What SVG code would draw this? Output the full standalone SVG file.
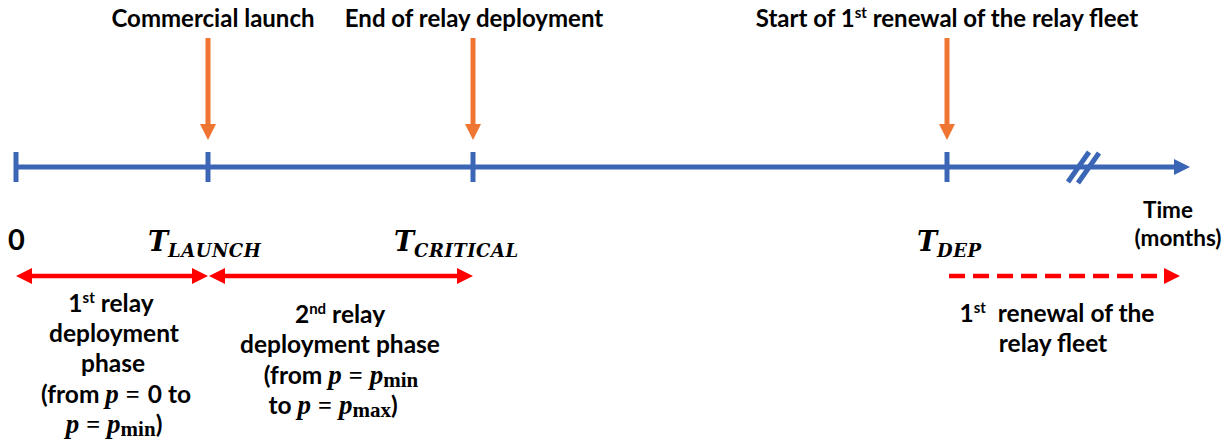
<svg xmlns="http://www.w3.org/2000/svg" width="1231" height="448" viewBox="0 0 1231 448">
  <style>
    .lbl { font-family: Lato, "Open Sans", "Liberation Sans", sans-serif; font-weight: bold; font-size: 24px; fill: #000; }
    .body { font-size: 24.5px; }
    .zero { font-size: 29px; }
    .unit { font-size: 22.5px; }
    .sup { font-size: 15px; }
    .math { font-family: "DejaVu Serif", "Liberation Serif", serif; font-style: italic; font-weight: bold; fill: #000; }
    .mi { font-family: "Liberation Serif", "DejaVu Serif", serif; font-style: italic; font-weight: bold; font-size: 27px; }
    .mr { font-family: "Liberation Serif", "DejaVu Serif", serif; font-style: normal; font-weight: bold; }
    .axis { stroke: #3A66B5; stroke-width: 5; fill: none; }
    .event { stroke: #F07533; stroke-width: 5; fill: none; }
    .span { stroke: #FF0000; stroke-width: 4.5; fill: none; }
  </style>
  <defs>
    <marker id="headOrange" viewBox="0 0 10 10" refX="0" refY="5" markerWidth="17" markerHeight="16" markerUnits="userSpaceOnUse" orient="auto">
      <path d="M0,0 L10,5 L0,10 z" fill="#F07533"/>
    </marker>
    <marker id="headBlue" viewBox="0 0 10 10" refX="0" refY="5" markerWidth="16" markerHeight="17" markerUnits="userSpaceOnUse" orient="auto">
      <path d="M0,0 L10,5 L0,10 z" fill="#3A66B5"/>
    </marker>
    <marker id="headRed" viewBox="0 0 10 10" refX="0" refY="5" markerWidth="16" markerHeight="16" markerUnits="userSpaceOnUse" orient="auto-start-reverse">
      <path d="M0,0 L10,5 L0,10 z" fill="#FF0000"/>
    </marker>
  </defs>

  <rect width="1231" height="448" fill="#fff"/>

  <!-- time axis with tick marks and break symbol -->
  <g id="axis">
    <line class="axis" x1="16" y1="167" x2="1174" y2="167" marker-end="url(#headBlue)"/>
    <line class="axis" x1="16" y1="152" x2="16" y2="182"/>
    <line class="axis" x1="208" y1="152" x2="208" y2="182"/>
    <line class="axis" x1="473" y1="152" x2="473" y2="182"/>
    <line class="axis" x1="947" y1="152" x2="947" y2="182"/>
    <line class="axis" x1="1068" y1="182" x2="1089" y2="152"/>
    <line class="axis" x1="1078" y1="183" x2="1099" y2="153"/>
  </g>

  <!-- connectors: event markers and phase spans -->
  <g id="connectors">
    <line class="event" x1="208" y1="38" x2="208" y2="124" marker-end="url(#headOrange)"/>
    <line class="event" x1="473" y1="38" x2="473" y2="124" marker-end="url(#headOrange)"/>
    <line class="event" x1="947" y1="38" x2="947" y2="124" marker-end="url(#headOrange)"/>
    <line class="span" x1="32" y1="276" x2="192" y2="276" marker-start="url(#headRed)" marker-end="url(#headRed)"/>
    <line class="span" x1="225" y1="276" x2="457" y2="276" marker-start="url(#headRed)" marker-end="url(#headRed)"/>
    <line class="span" x1="949" y1="276" x2="1164" y2="276" stroke-dasharray="16 8" marker-end="url(#headRed)"/>
  </g>

  <!-- event labels -->
  <g id="event-launch">
    <text class="lbl" x="213" y="27" text-anchor="middle">Commercial launch</text>
  </g>
  <g id="event-critical">
    <text class="lbl" x="474" y="27" text-anchor="middle">End of relay deployment</text>
  </g>
  <g id="event-renewal">
    <text class="lbl" x="947" y="27" text-anchor="middle">Start of 1<tspan class="sup" dy="-9">st</tspan><tspan dy="9"> renewal of the relay fleet</tspan></text>
  </g>

  <!-- time marks -->
  <g id="mark-zero">
    <text class="lbl zero" x="8" y="250">0</text>
  </g>
  <g id="mark-launch">
    <text class="math" x="148" y="251" font-size="27">T<tspan font-size="18" dy="6" letter-spacing="0.5">LAUNCH</tspan></text>
  </g>
  <g id="mark-critical">
    <text class="math" x="394" y="251" font-size="27">T<tspan font-size="18" dy="6" letter-spacing="0.5">CRITICAL</tspan></text>
  </g>
  <g id="mark-dep">
    <text class="math" x="917" y="251" font-size="27">T<tspan font-size="18" dy="6" letter-spacing="0.5">DEP</tspan></text>
  </g>
  <g id="mark-time">
    <text class="lbl unit" x="1168" y="218" text-anchor="middle">Time</text>
    <text class="lbl unit" x="1178" y="246" text-anchor="middle">(months)</text>
  </g>

  <!-- phase descriptions -->
  <g id="phase-1">
    <text class="lbl body" x="111" y="312" text-anchor="middle">1<tspan class="sup" dy="-9">st</tspan><tspan dy="9"> relay</tspan></text>
    <text class="lbl body" x="114" y="342" text-anchor="middle">deployment</text>
    <text class="lbl body" x="113" y="372" text-anchor="middle">phase</text>
    <text class="lbl body" x="116" y="403" text-anchor="middle">(from <tspan class="mi">p</tspan><tspan class="mr" dx="7">=</tspan><tspan dx="8">0 to</tspan></text>
    <text class="lbl body" x="114" y="433" text-anchor="middle"><tspan class="mi">p</tspan><tspan class="mr" dx="7">=</tspan><tspan class="mi" dx="7">p</tspan><tspan class="mr" font-size="21" dy="3">min</tspan><tspan dy="-3">)</tspan></text>
  </g>
  <g id="phase-2">
    <text class="lbl body" x="340" y="323" text-anchor="middle">2<tspan class="sup" dy="-9">nd</tspan><tspan dy="9"> relay</tspan></text>
    <text class="lbl body" x="340" y="353" text-anchor="middle">deployment phase</text>
    <text class="lbl body" x="341" y="384" text-anchor="middle">(from <tspan class="mi">p</tspan><tspan class="mr" dx="7">=</tspan><tspan class="mi" dx="7">p</tspan><tspan class="mr" font-size="21" dy="3">min</tspan></text>
    <text class="lbl body" x="333" y="414" text-anchor="middle">to <tspan class="mi">p</tspan><tspan class="mr" dx="7">=</tspan><tspan class="mi" dx="7">p</tspan><tspan class="mr" font-size="21" dy="3">max</tspan><tspan dy="-3">)</tspan></text>
  </g>
  <g id="phase-renewal">
    <text class="lbl body" x="1057" y="322" text-anchor="middle">1<tspan class="sup" dy="-9">st</tspan><tspan dy="9" xml:space="preserve">  renewal of the</tspan></text>
    <text class="lbl body" x="1053" y="352" text-anchor="middle">relay fleet</text>
  </g>
</svg>
